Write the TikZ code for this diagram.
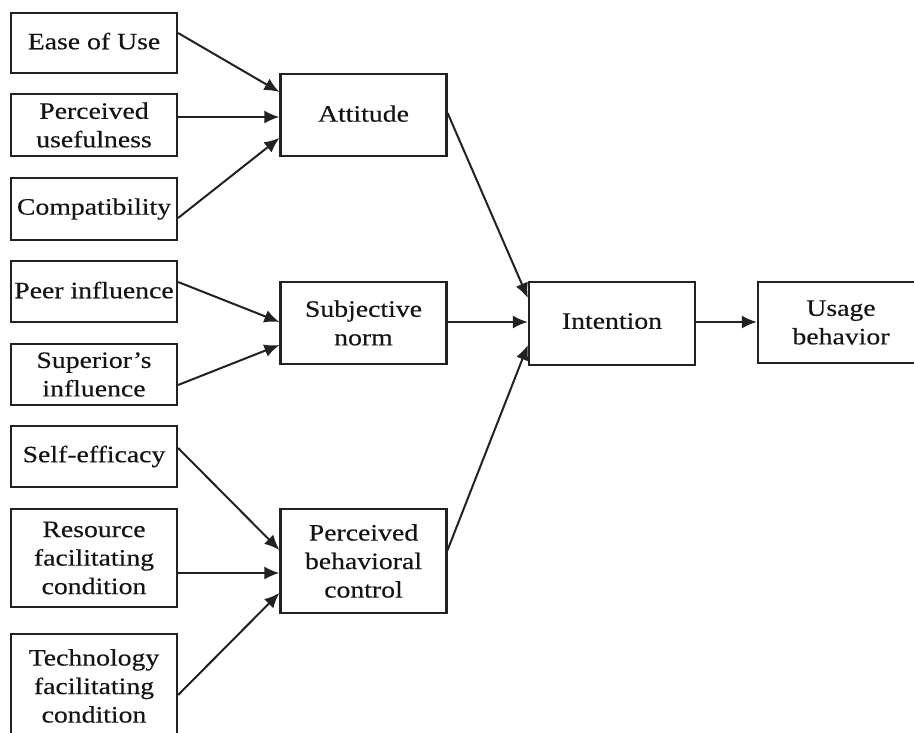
\documentclass[tikz,border=0pt]{standalone}
\usepackage{fontspec}
\setmainfont[FakeStretch=1.18,FakeBold=0.3]{Liberation Serif}
\usetikzlibrary{arrows.meta}
\definecolor{linec}{HTML}{222222}
\definecolor{textc}{HTML}{141414}
\tikzset{
  box/.style={draw=linec, line width=2.2pt, minimum width=166pt, align=center, inner sep=0pt,
    text=textc, font=\fontsize{23.5}{28.5}\selectfont},
  arr/.style={-{Latex[length=15pt,width=13pt]}, line width=2pt, draw=linec},
}
\newcommand{\up}[2]{\raisebox{#1}{#2}}
\begin{document}
\begin{tikzpicture}[x=1pt,y=-1pt]
\useasboundingbox[fill=white] (0,0) rectangle (914,733);
% left column
\node[box, minimum height=60pt] (ease) at (94,43) {\up{4pt}{Ease of Use}};
\node[box, minimum height=62pt] (pu) at (94,125) {Perceived\\usefulness};
\node[box, minimum height=62pt] (comp) at (94,209) {\up{3pt}{Compatibility}};
\node[box, minimum height=61pt] (peer) at (94,291.5) {\up{3pt}{Peer influence}};
\node[box, minimum height=61pt] (sup) at (94,374.5) {Superior’s\\influence};
\node[box, minimum height=61pt] (self) at (94,456.5) {\up{3pt}{Self-efficacy}};
\node[box, minimum height=98pt] (res) at (94,558) {Resource\\facilitating\\condition};
\node[box, minimum height=104pt] (tech) at (94,686) {Technology\\facilitating\\condition};
% middle column
\node[box, minimum height=82pt] (att) at (363.5,115) {\up{3pt}{Attitude}};
\node[box, minimum height=82pt] (sn) at (363.5,323) {Subjective\\norm};
\node[box, minimum height=104pt] (pbc) at (363.5,561) {Perceived\\behavioral\\control};
% right
\node[box, minimum height=83pt] (int) at (612,323.5) {\up{5pt}{Intention}};
\node[box, minimum height=81pt] (use) at (841,322.5) {Usage\\behavior};
% connectors
\draw[arr] ([yshift=10pt]ease.east) -- ([yshift=23pt]att.west);
\draw[arr] ([yshift=8pt]pu.east) -- ([yshift=-2pt]att.west);
\draw[arr] ([yshift=-9pt]comp.east) -- ([yshift=-23pt]att.west);
\draw[arr] ([yshift=9.5pt]peer.east) -- ([yshift=1pt]sn.west);
\draw[arr] ([yshift=-10.5pt]sup.east) -- ([yshift=-22pt]sn.west);
\draw[arr] ([yshift=8.5pt]self.east) -- ([yshift=11pt]pbc.west);
\draw[arr] ([yshift=-15pt]res.east) -- ([yshift=-12pt]pbc.west);
\draw[arr] ([yshift=-9pt]tech.east) -- ([yshift=-32pt]pbc.west);
\draw[arr] ([yshift=2pt]att.east) -- ([yshift=25.5pt]int.west);
\draw[arr] ([yshift=1pt]sn.east) -- ([yshift=1.5pt]int.west);
\draw[arr] ([yshift=11pt]pbc.east) -- ([yshift=-21.5pt]int.west);
\draw[arr] ([yshift=1.5pt]int.east) -- ([yshift=0.5pt]use.west);
\end{tikzpicture}
\end{document}
